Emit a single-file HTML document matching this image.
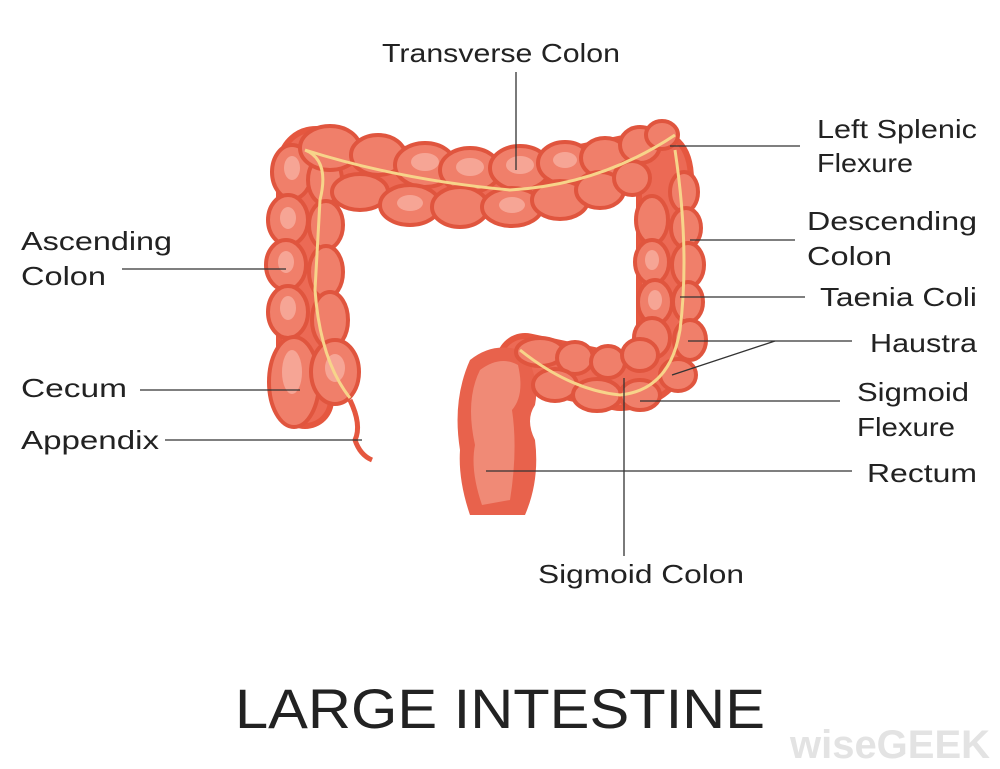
<!DOCTYPE html>
<html><head><meta charset="utf-8"><style>
html,body{margin:0;padding:0;background:#fff;}
svg{display:block;}
text{font-family:"Liberation Sans",sans-serif;fill:#222;}
</style></head><body>
<svg width="1000" height="769" viewBox="0 0 1000 769">
<g stroke-linecap="round" stroke-linejoin="round" fill="none">
 <path d="M305,400 L305,165 Q310,145 340,165 L500,190 L645,160 Q665,150 665,180 L665,345 Q658,380 620,382 L525,362" stroke="#e5573f" stroke-width="58"/>
 <path d="M305,400 L305,165 Q310,145 340,165 L500,190 L645,160 Q665,150 665,180 L665,345 Q658,380 620,382 L525,362" stroke="#ec6a55" stroke-width="46"/>
</g>
<path d="M470,360 Q495,340 525,352 Q540,380 535,405 Q525,420 535,440 Q540,480 525,515 L470,515 Q458,480 460,450 Q452,400 470,360Z" fill="#e8624c"/>
<path d="M480,370 Q500,355 518,365 Q525,395 512,410 Q518,450 510,500 L482,505 Q470,470 475,445 Q465,400 480,370Z" fill="#f08a76"/>
<path d="M350,400 Q362,425 355,440 Q360,455 372,460" stroke="#e5573f" stroke-width="5" fill="none"/>
<g fill="#f07f6a" stroke="#e0553e" stroke-width="4">
 <ellipse cx="292" cy="172" rx="20" ry="27"/><ellipse cx="325" cy="180" rx="17" ry="24"/>
 <ellipse cx="288" cy="220" rx="20" ry="25"/><ellipse cx="326" cy="225" rx="17" ry="24"/>
 <ellipse cx="286" cy="265" rx="20" ry="25"/><ellipse cx="326" cy="272" rx="17" ry="26"/>
 <ellipse cx="288" cy="312" rx="20" ry="26"/><ellipse cx="330" cy="320" rx="18" ry="28"/>
 <ellipse cx="294" cy="382" rx="25" ry="45"/><ellipse cx="335" cy="372" rx="24" ry="32"/>
 <ellipse cx="330" cy="148" rx="30" ry="22"/><ellipse cx="378" cy="155" rx="27" ry="20"/>
 <ellipse cx="425" cy="165" rx="30" ry="22"/><ellipse cx="470" cy="170" rx="30" ry="22"/>
 <ellipse cx="520" cy="168" rx="30" ry="22"/><ellipse cx="565" cy="163" rx="27" ry="21"/>
 <ellipse cx="605" cy="158" rx="24" ry="20"/><ellipse cx="640" cy="145" rx="20" ry="18"/>
 <ellipse cx="662" cy="135" rx="16" ry="14"/>
 <ellipse cx="360" cy="192" rx="28" ry="18"/><ellipse cx="410" cy="205" rx="30" ry="20"/>
 <ellipse cx="460" cy="207" rx="28" ry="20"/><ellipse cx="512" cy="207" rx="30" ry="19"/>
 <ellipse cx="560" cy="200" rx="28" ry="19"/><ellipse cx="600" cy="190" rx="24" ry="18"/>
 <ellipse cx="632" cy="178" rx="18" ry="17"/>
 <ellipse cx="652" cy="220" rx="16" ry="24"/><ellipse cx="684" cy="192" rx="14" ry="20"/>
 <ellipse cx="652" cy="262" rx="17" ry="22"/><ellipse cx="686" cy="228" rx="15" ry="20"/>
 <ellipse cx="655" cy="302" rx="17" ry="22"/><ellipse cx="688" cy="265" rx="16" ry="22"/>
 <ellipse cx="652" cy="338" rx="18" ry="20"/><ellipse cx="688" cy="302" rx="15" ry="20"/>
 <ellipse cx="690" cy="340" rx="16" ry="20"/><ellipse cx="678" cy="375" rx="18" ry="16"/>
 <ellipse cx="540" cy="352" rx="24" ry="14"/><ellipse cx="575" cy="358" rx="18" ry="16"/>
 <ellipse cx="608" cy="362" rx="17" ry="16"/><ellipse cx="640" cy="355" rx="18" ry="16"/>
 <ellipse cx="555" cy="385" rx="22" ry="16"/><ellipse cx="597" cy="395" rx="24" ry="16"/>
 <ellipse cx="640" cy="395" rx="20" ry="15"/>
</g>
<g fill="#f6a595">
 <ellipse cx="292" cy="168" rx="8" ry="12"/><ellipse cx="288" cy="218" rx="8" ry="11"/>
 <ellipse cx="286" cy="262" rx="8" ry="11"/><ellipse cx="288" cy="308" rx="8" ry="12"/>
 <ellipse cx="292" cy="372" rx="10" ry="22"/><ellipse cx="335" cy="368" rx="10" ry="14"/>
 <ellipse cx="425" cy="162" rx="14" ry="9"/><ellipse cx="470" cy="167" rx="14" ry="9"/>
 <ellipse cx="520" cy="165" rx="14" ry="9"/><ellipse cx="565" cy="160" rx="12" ry="8"/>
 <ellipse cx="410" cy="203" rx="13" ry="8"/><ellipse cx="512" cy="205" rx="13" ry="8"/>
 <ellipse cx="652" cy="260" rx="7" ry="10"/><ellipse cx="655" cy="300" rx="7" ry="10"/>
</g>
<path d="M305,150 Q330,160 320,200 L315,290 Q320,360 350,398 M305,150 Q400,180 510,190 Q600,185 675,135 M675,150 Q690,250 680,330 Q670,390 620,395 Q570,390 520,350" stroke="#f7d48a" stroke-width="3" fill="none"/>
<g stroke="#333" stroke-width="1.3" fill="none">
 <line x1="516" y1="72" x2="516" y2="170"/>
 <line x1="670" y1="146" x2="800" y2="146"/>
 <line x1="122" y1="269" x2="286" y2="269"/>
 <line x1="690" y1="240" x2="795" y2="240"/>
 <line x1="680" y1="297" x2="805" y2="297"/>
 <line x1="688" y1="341" x2="852" y2="341"/>
 <line x1="775" y1="341" x2="672" y2="375"/>
 <line x1="640" y1="401" x2="840" y2="401"/>
 <line x1="140" y1="390" x2="300" y2="390"/>
 <line x1="165" y1="440" x2="362" y2="440"/>
 <line x1="486" y1="471" x2="852" y2="471"/>
 <line x1="624" y1="378" x2="624" y2="556"/>
</g>
<g font-size="26" lengthAdjust="spacingAndGlyphs">
 <text x="382" y="62" textLength="238" lengthAdjust="spacingAndGlyphs">Transverse Colon</text>
 <text x="817" y="138" textLength="160" lengthAdjust="spacingAndGlyphs">Left Splenic</text>
 <text x="817" y="172" textLength="96" lengthAdjust="spacingAndGlyphs">Flexure</text>
 <text x="807" y="230" textLength="170" lengthAdjust="spacingAndGlyphs">Descending</text>
 <text x="807" y="265" textLength="85" lengthAdjust="spacingAndGlyphs">Colon</text>
 <text x="820" y="306" textLength="157" lengthAdjust="spacingAndGlyphs">Taenia Coli</text>
 <text x="870" y="352" textLength="107" lengthAdjust="spacingAndGlyphs">Haustra</text>
 <text x="857" y="401" textLength="112" lengthAdjust="spacingAndGlyphs">Sigmoid</text>
 <text x="857" y="436" textLength="98" lengthAdjust="spacingAndGlyphs">Flexure</text>
 <text x="867" y="482" textLength="110" lengthAdjust="spacingAndGlyphs">Rectum</text>
 <text x="21" y="250" textLength="151" lengthAdjust="spacingAndGlyphs">Ascending</text>
 <text x="21" y="285" textLength="85" lengthAdjust="spacingAndGlyphs">Colon</text>
 <text x="21" y="397" textLength="106" lengthAdjust="spacingAndGlyphs">Cecum</text>
 <text x="21" y="449" textLength="138" lengthAdjust="spacingAndGlyphs">Appendix</text>
 <text x="538" y="583" textLength="206" lengthAdjust="spacingAndGlyphs">Sigmoid Colon</text>
</g>
<text x="500" y="728" font-size="56" text-anchor="middle" textLength="530" lengthAdjust="spacingAndGlyphs">LARGE INTESTINE</text>
<text x="790" y="758" font-size="40" font-weight="bold" style="fill:#e3e3e3" textLength="200" lengthAdjust="spacingAndGlyphs">wiseGEEK</text>
</svg>
</body></html>
